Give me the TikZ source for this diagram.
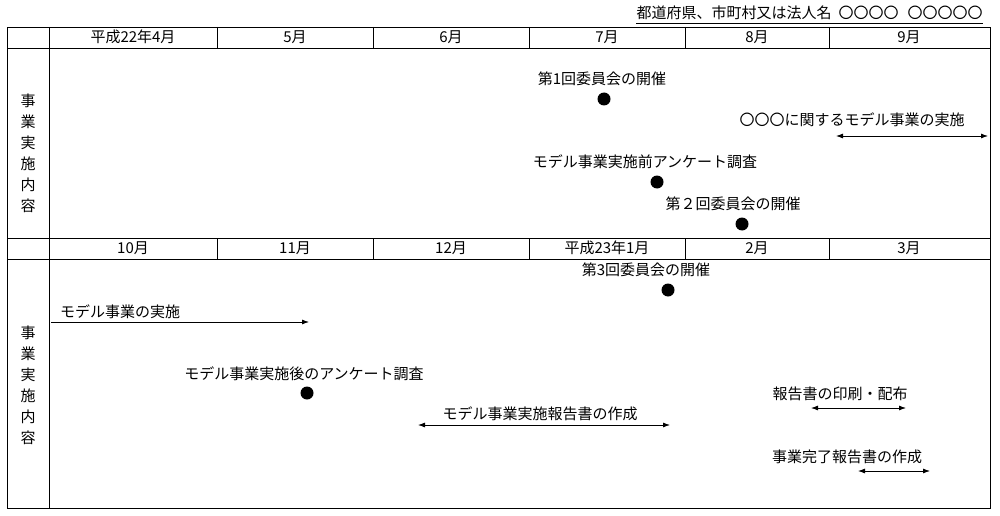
\documentclass[tikz,border=0pt]{standalone}
\usepackage{fontspec}
\setmainfont{Noto Sans CJK JP}
\usetikzlibrary{arrows.meta}
\tikzset{
  txt/.style={inner sep=0pt, font=\fontsize{15}{15}\selectfont},
  evdot/.style={circle, fill=black, minimum size=13pt, inner sep=0pt},
  period/.style={line width=0.8pt, {Latex[length=7pt,width=5pt]}-{Latex[length=7pt,width=5pt]}},
  oneway/.style={line width=0.8pt, -{Latex[length=7pt,width=5pt]}},
}
\begin{document}
\begin{tikzpicture}[x=1pt, y=-1pt, line width=0.8pt]
    \useasboundingbox (0,0) rectangle (1000,516);

    % 1. 表題
    \node[txt, anchor=east] (title) at (983,13) {都道府県、市町村又は法人名\hspace{7pt}〇〇〇〇\hspace{9pt}〇〇〇〇〇};
    \draw ([yshift=-3pt]title.south west) -- ([yshift=-3pt]title.south east);

    % 2. 表の罫線
    \draw (7,27) rectangle (990,508);
    \draw (7,48) -- (990,48);
    \draw (7,238) -- (990,238);
    \draw (7,259) -- (990,259);
    \draw (49,27) -- (49,508);
    \foreach \xx in {217,373,529,685,829} {
        \draw (\xx,27) -- (\xx,48);
        \draw (\xx,238) -- (\xx,259);
    }

    % 3. 月の見出し
    \node[txt] (m4) at (133,37) {平成22年4月};
    \node[txt] (m5) at (295,37) {5月};
    \node[txt] (m6) at (451,37) {6月};
    \node[txt] (m7) at (607,37) {7月};
    \node[txt] (m8) at (757,37) {8月};
    \node[txt] (m9) at (909,37) {9月};
    \node[txt] (m10) at (133,248) {10月};
    \node[txt] (m11) at (295,248) {11月};
    \node[txt] (m12) at (451,248) {12月};
    \node[txt] (m1) at (607,248) {平成23年1月};
    \node[txt] (m2) at (757,248) {2月};
    \node[txt] (m3) at (909,248) {3月};

    % 4. 縦書きの見出し
    \node[txt, align=center, font=\fontsize{15}{21}\selectfont] (side1) at (28,153) {事\\業\\実\\施\\内\\容};
    \node[txt, align=center, font=\fontsize{15}{21}\selectfont] (side2) at (28,385) {事\\業\\実\\施\\内\\容};

    % 5. 上段の事業内容
    \node[txt] (iinkai1) at (602,79) {第1回委員会の開催};
    \node[evdot] (d1) at (604,99) {};
    \node[txt] (jisshi1) at (852,120) {〇〇〇に関するモデル事業の実施};
    \coordinate (j1a) at (836,136);
    \coordinate (j1b) at (988,136);
    \draw[period] (j1a) -- (j1b);
    \node[txt] (mae) at (645,162) {モデル事業実施前アンケート調査};
    \node[evdot] (d2) at (657,182) {};
    \node[txt] (iinkai2) at (733,204) {第２回委員会の開催};
    \node[evdot] (d3) at (742,224) {};

    % 6. 下段の事業内容
    \node[txt] (iinkai3) at (646,270) {第3回委員会の開催};
    \node[evdot] (d4) at (668,290) {};
    \node[txt] (jisshi2) at (120,312) {モデル事業の実施};
    \coordinate (j2a) at (51,322);
    \coordinate (j2b) at (309,322);
    \draw[oneway] (j2a) -- (j2b);
    \node[txt] (ato) at (304,374) {モデル事業実施後のアンケート調査};
    \node[evdot] (d5) at (307,393) {};
    \node[txt] (hokoku) at (540,414) {モデル事業実施報告書の作成};
    \coordinate (h1a) at (418,425);
    \coordinate (h1b) at (670,425);
    \draw[period] (h1a) -- (h1b);
    \node[txt] (insatsu) at (840,394) {報告書の印刷・配布};
    \coordinate (i1a) at (811,408);
    \coordinate (i1b) at (906,408);
    \draw[period] (i1a) -- (i1b);
    \node[txt] (kanryo) at (847,457) {事業完了報告書の作成};
    \coordinate (k1a) at (858,471);
    \coordinate (k1b) at (930,471);
    \draw[period] (k1a) -- (k1b);
\end{tikzpicture}
\end{document}
